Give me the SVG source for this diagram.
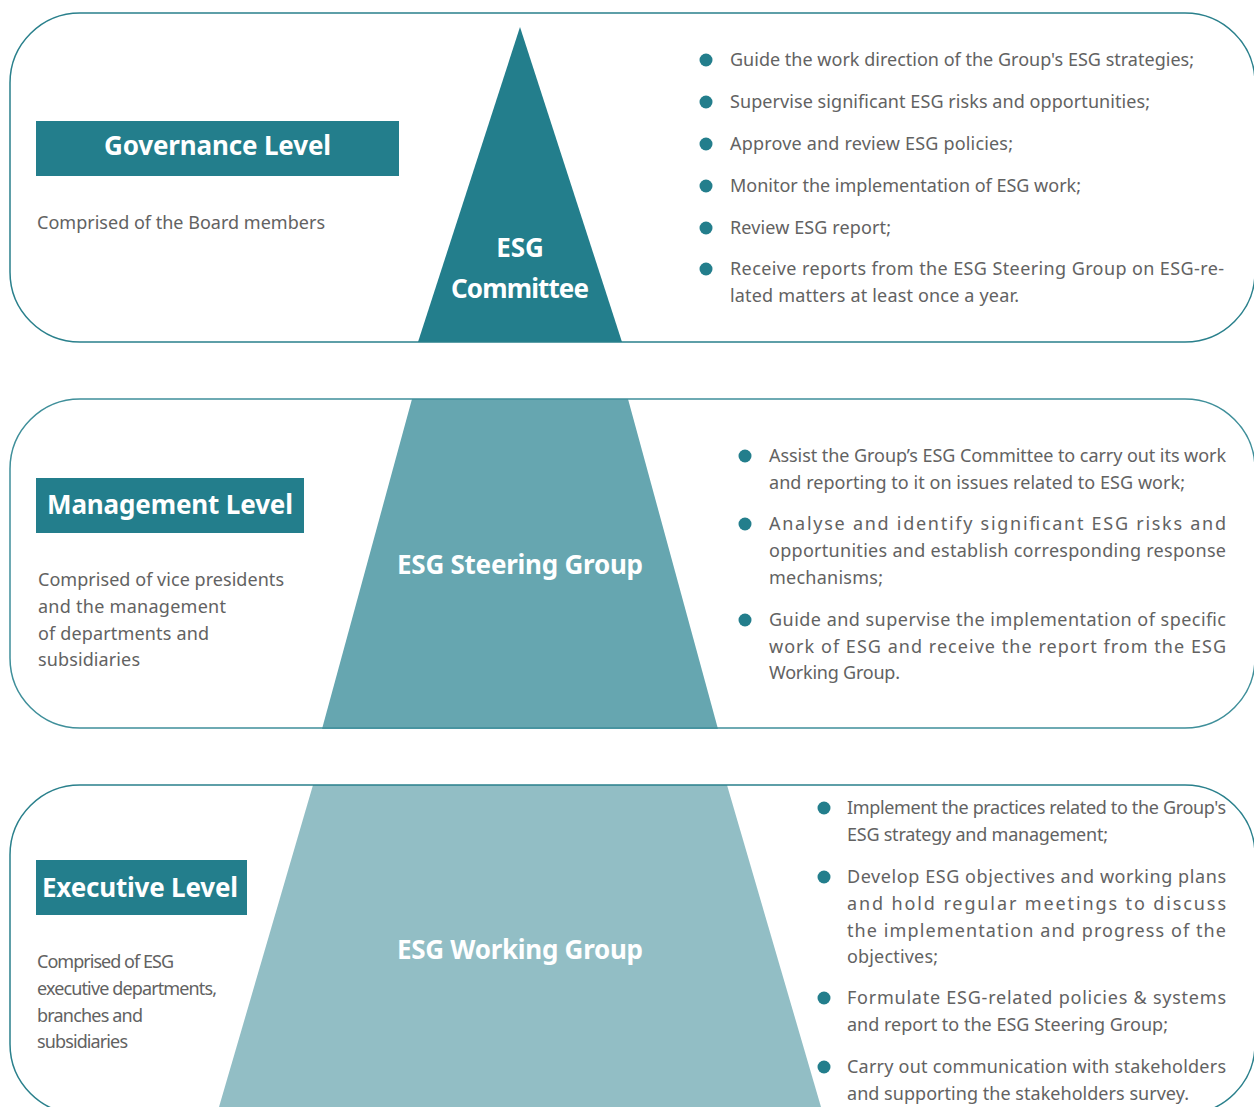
<svg xmlns="http://www.w3.org/2000/svg" width="1254" height="1107" viewBox="0 0 1254 1107">
<style>
.panel{fill:none;stroke:#2a808c;stroke-width:1.5}
.lbl{fill:#237e8c}
.lt{font-family:"Noto Sans","Open Sans",sans-serif;font-weight:bold;font-size:26px;fill:#ffffff}
.pt{font-family:"Noto Sans","Open Sans",sans-serif;font-weight:bold;font-size:26px;fill:#ffffff;text-anchor:middle}
.d{font-family:"Noto Sans","Open Sans",sans-serif;font-size:18px;fill:#626262}
.b{fill:#237e8c}
</style>
<rect width="1254" height="1107" fill="#ffffff"/>
<g id="pyramid">
<polygon points="520,27 622,342 418,342" fill="#237e8c"/>
<polygon points="412,399 628,399 718,729 322,729" fill="#66a6b0"/>
<polygon points="313,785 727,785 821,1107 219,1107" fill="#92bec5"/>
</g>
<g id="connectors">
<rect class="panel" x="10" y="13" width="1245" height="329" rx="70" ry="70"/>
<rect class="panel" x="10" y="399" width="1245" height="329" rx="70" ry="70" style="stroke:#3f8f9a"/>
<rect class="panel" x="10" y="785" width="1245" height="329" rx="70" ry="70"/>
</g>
<g id="esg-committee">
<text class="pt" x="520" y="257">ESG</text>
<text class="pt" x="520" y="298" textLength="138" lengthAdjust="spacing">Committee</text>
</g>
<g id="esg-steering-group">
<text class="pt" x="520" y="574" textLength="246" lengthAdjust="spacing">ESG Steering Group</text>
</g>
<g id="esg-working-group">
<text class="pt" x="520" y="959" textLength="246" lengthAdjust="spacing">ESG Working Group</text>
</g>
<g id="governance-level">
<rect class="lbl" x="36" y="121" width="363" height="55"/>
<text class="lt" x="104" y="155" textLength="227" lengthAdjust="spacing">Governance Level</text>
<text class="d" x="37" y="229" textLength="288" lengthAdjust="spacing">Comprised of the Board members</text>
</g>
<g id="management-level">
<rect class="lbl" x="36" y="478" width="268" height="55"/>
<text class="lt" x="47" y="514" textLength="246" lengthAdjust="spacing">Management Level</text>
<text class="d" x="38" y="586" textLength="246" lengthAdjust="spacing">Comprised of vice presidents</text>
<text class="d" x="38" y="613" textLength="188" lengthAdjust="spacing">and the management</text>
<text class="d" x="38" y="640" textLength="171" lengthAdjust="spacing">of departments and</text>
<text class="d" x="38" y="666" textLength="102" lengthAdjust="spacing">subsidiaries</text>
</g>
<g id="executive-level">
<rect class="lbl" x="36" y="860" width="211" height="55"/>
<text class="lt" x="42" y="897" textLength="196" lengthAdjust="spacing">Executive Level</text>
<text class="d" x="37" y="968" textLength="137" lengthAdjust="spacing">Comprised of ESG</text>
<text class="d" x="37" y="995" textLength="180" lengthAdjust="spacing">executive departments,</text>
<text class="d" x="37" y="1022" textLength="106" lengthAdjust="spacing">branches and</text>
<text class="d" x="37" y="1048" textLength="91" lengthAdjust="spacing">subsidiaries</text>
</g>
<g id="committee-duties">
<circle class="b" cx="706" cy="60" r="6.5"/>
<text class="d" x="730" y="66" textLength="464" lengthAdjust="spacing">Guide the work direction of the Group's ESG strategies;</text>
<circle class="b" cx="706" cy="102" r="6.5"/>
<text class="d" x="730" y="108" textLength="420" lengthAdjust="spacing">Supervise significant ESG risks and opportunities;</text>
<circle class="b" cx="706" cy="144" r="6.5"/>
<text class="d" x="730" y="150" textLength="283" lengthAdjust="spacing">Approve and review ESG policies;</text>
<circle class="b" cx="706" cy="186" r="6.5"/>
<text class="d" x="730" y="192" textLength="351" lengthAdjust="spacing">Monitor the implementation of ESG work;</text>
<circle class="b" cx="706" cy="228" r="6.5"/>
<text class="d" x="730" y="234" textLength="161" lengthAdjust="spacing">Review ESG report;</text>
<circle class="b" cx="706" cy="269" r="6.5"/>
<text class="d" x="730" y="275" textLength="494" lengthAdjust="spacing">Receive reports from the ESG Steering Group on ESG-re-</text>
<text class="d" x="730" y="302" textLength="289" lengthAdjust="spacing">lated matters at least once a year.</text>
</g>
<g id="steering-duties">
<circle class="b" cx="745" cy="456" r="6.5"/>
<text class="d" x="769" y="462" textLength="457" lengthAdjust="spacing">Assist the Group’s ESG Committee to carry out its work</text>
<text class="d" x="769" y="489" textLength="416" lengthAdjust="spacing">and reporting to it on issues related to ESG work;</text>
<circle class="b" cx="745" cy="524" r="6.5"/>
<text class="d" x="769" y="530" textLength="457" lengthAdjust="spacing">Analyse and identify significant ESG risks and</text>
<text class="d" x="769" y="557" textLength="457" lengthAdjust="spacing">opportunities and establish corresponding response</text>
<text class="d" x="769" y="584" textLength="114" lengthAdjust="spacing">mechanisms;</text>
<circle class="b" cx="745" cy="620" r="6.5"/>
<text class="d" x="769" y="626" textLength="457" lengthAdjust="spacing">Guide and supervise the implementation of specific</text>
<text class="d" x="769" y="653" textLength="457" lengthAdjust="spacing">work of ESG and receive the report from the ESG</text>
<text class="d" x="769" y="679" textLength="131" lengthAdjust="spacing">Working Group.</text>
</g>
<g id="working-duties">
<circle class="b" cx="824" cy="808" r="6.5"/>
<text class="d" x="847" y="814" textLength="379" lengthAdjust="spacing">Implement the practices related to the Group's</text>
<text class="d" x="847" y="841" textLength="261" lengthAdjust="spacing">ESG strategy and management;</text>
<circle class="b" cx="824" cy="877" r="6.5"/>
<text class="d" x="847" y="883" textLength="379" lengthAdjust="spacing">Develop ESG objectives and working plans</text>
<text class="d" x="847" y="910" textLength="379" lengthAdjust="spacing">and hold regular meetings to discuss</text>
<text class="d" x="847" y="937" textLength="379" lengthAdjust="spacing">the implementation and progress of the</text>
<text class="d" x="847" y="963" textLength="91" lengthAdjust="spacing">objectives;</text>
<circle class="b" cx="824" cy="998" r="6.5"/>
<text class="d" x="847" y="1004" textLength="379" lengthAdjust="spacing">Formulate ESG-related policies &amp; systems</text>
<text class="d" x="847" y="1031" textLength="321" lengthAdjust="spacing">and report to the ESG Steering Group;</text>
<circle class="b" cx="824" cy="1067" r="6.5"/>
<text class="d" x="847" y="1073" textLength="379" lengthAdjust="spacing">Carry out communication with stakeholders</text>
<text class="d" x="847" y="1100" textLength="342" lengthAdjust="spacing">and supporting the stakeholders survey.</text>
</g>
</svg>
